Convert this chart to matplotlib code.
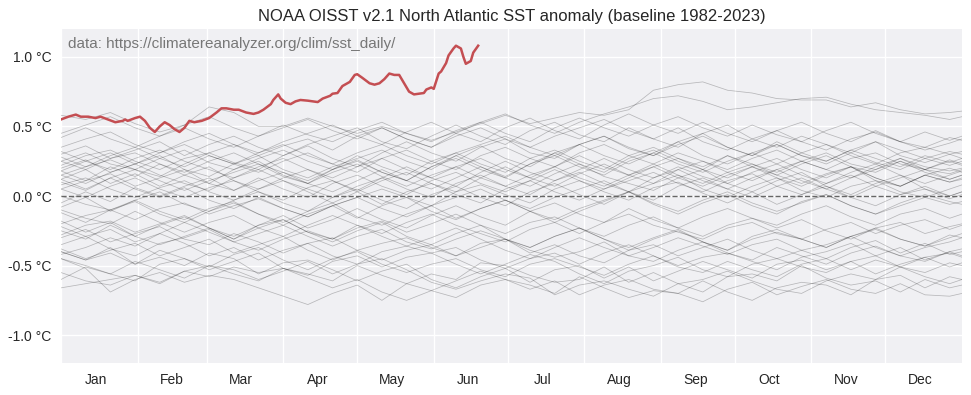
import numpy as np
import matplotlib
matplotlib.use("Agg")
import matplotlib.pyplot as plt
from matplotlib.ticker import FixedLocator, NullFormatter, FixedFormatter

# sample days (day of year, 0 = Jan 1) for the past years
days = [0, 10, 20, 30, 40, 50, 60, 70, 80, 90, 100, 110, 120, 130, 140, 150, 160, 170, 180,
        190, 200, 210, 220, 230, 240, 250, 260, 270, 280, 290, 300, 310, 320, 330, 340, 350, 360, 365]

y1982 = [-0.45, -0.52, -0.69, -0.6, -0.55, -0.62, -0.57, -0.6, -0.66, -0.72, -0.78, -0.7, -0.64, -0.75, -0.63, -0.68, -0.61, -0.54, -0.6, -0.64, -0.7, -0.58, -0.66, -0.73, -0.68, -0.7, -0.61, -0.69, -0.75, -0.66, -0.62, -0.64, -0.71, -0.6, -0.57, -0.66, -0.58, -0.6]
y1983 = [-0.66, -0.63, -0.6, -0.57, -0.62, -0.54, -0.58, -0.51, -0.55, -0.52, -0.56, -0.61, -0.5, -0.57, -0.63, -0.56, -0.6, -0.48, -0.5, -0.57, -0.62, -0.6, -0.51, -0.62, -0.55, -0.63, -0.69, -0.58, -0.56, -0.61, -0.5, -0.59, -0.64, -0.61, -0.69, -0.6, -0.66, -0.64]
y1984 = [-0.4, -0.46, -0.37, -0.49, -0.44, -0.5, -0.41, -0.45, -0.56, -0.48, -0.46, -0.53, -0.61, -0.54, -0.49, -0.6, -0.66, -0.58, -0.52, -0.62, -0.53, -0.5, -0.59, -0.51, -0.61, -0.54, -0.47, -0.53, -0.59, -0.49, -0.46, -0.53, -0.47, -0.56, -0.49, -0.44, -0.51, -0.48]
y1985 = [-0.55, -0.61, -0.64, -0.57, -0.63, -0.54, -0.5, -0.53, -0.6, -0.54, -0.47, -0.56, -0.49, -0.45, -0.53, -0.62, -0.67, -0.61, -0.56, -0.59, -0.71, -0.64, -0.61, -0.67, -0.72, -0.63, -0.6, -0.54, -0.61, -0.67, -0.7, -0.61, -0.56, -0.6, -0.51, -0.58, -0.63, -0.6]
y1986 = [-0.6, -0.51, -0.56, -0.61, -0.49, -0.45, -0.53, -0.47, -0.41, -0.52, -0.57, -0.47, -0.43, -0.51, -0.44, -0.41, -0.49, -0.56, -0.49, -0.42, -0.47, -0.56, -0.63, -0.54, -0.5, -0.44, -0.53, -0.58, -0.49, -0.45, -0.51, -0.55, -0.47, -0.43, -0.51, -0.44, -0.41, -0.44]
y1987 = [-0.42, -0.37, -0.3, -0.36, -0.27, -0.34, -0.43, -0.37, -0.46, -0.39, -0.34, -0.43, -0.49, -0.4, -0.36, -0.41, -0.37, -0.46, -0.52, -0.45, -0.41, -0.49, -0.41, -0.35, -0.43, -0.5, -0.44, -0.41, -0.47, -0.53, -0.44, -0.4, -0.34, -0.43, -0.37, -0.46, -0.4, -0.38]
y1988 = [-0.38, -0.45, -0.39, -0.34, -0.43, -0.37, -0.31, -0.41, -0.35, -0.29, -0.39, -0.46, -0.39, -0.34, -0.3, -0.37, -0.43, -0.34, -0.31, -0.39, -0.44, -0.4, -0.33, -0.43, -0.37, -0.3, -0.36, -0.42, -0.35, -0.31, -0.39, -0.45, -0.37, -0.32, -0.41, -0.34, -0.42, -0.4]
y1989 = [-0.3, -0.24, -0.33, -0.27, -0.22, -0.31, -0.35, -0.27, -0.33, -0.41, -0.34, -0.3, -0.39, -0.46, -0.39, -0.35, -0.43, -0.37, -0.31, -0.41, -0.35, -0.43, -0.48, -0.39, -0.35, -0.43, -0.37, -0.31, -0.39, -0.45, -0.39, -0.35, -0.29, -0.37, -0.43, -0.37, -0.33, -0.3]
y1990 = [-0.22, -0.29, -0.24, -0.33, -0.27, -0.19, -0.26, -0.33, -0.27, -0.21, -0.29, -0.36, -0.29, -0.24, -0.33, -0.38, -0.31, -0.25, -0.31, -0.37, -0.29, -0.23, -0.31, -0.37, -0.3, -0.24, -0.33, -0.39, -0.31, -0.26, -0.31, -0.37, -0.29, -0.24, -0.31, -0.36, -0.3, -0.27]
y1991 = [-0.35, -0.29, -0.38, -0.43, -0.34, -0.3, -0.24, -0.33, -0.39, -0.31, -0.25, -0.31, -0.21, -0.29, -0.36, -0.3, -0.23, -0.31, -0.39, -0.45, -0.37, -0.3, -0.37, -0.43, -0.47, -0.39, -0.33, -0.41, -0.46, -0.37, -0.43, -0.49, -0.41, -0.36, -0.43, -0.47, -0.4, -0.43]
y1992 = [-0.45, -0.5, -0.56, -0.47, -0.53, -0.59, -0.5, -0.56, -0.61, -0.52, -0.59, -0.66, -0.6, -0.69, -0.75, -0.68, -0.73, -0.64, -0.6, -0.67, -0.61, -0.71, -0.64, -0.6, -0.67, -0.7, -0.76, -0.67, -0.62, -0.71, -0.65, -0.6, -0.67, -0.7, -0.63, -0.71, -0.72, -0.7]
y1993 = [-0.4, -0.46, -0.41, -0.49, -0.39, -0.45, -0.51, -0.42, -0.37, -0.46, -0.53, -0.45, -0.4, -0.49, -0.55, -0.49, -0.45, -0.53, -0.58, -0.49, -0.45, -0.51, -0.57, -0.49, -0.43, -0.51, -0.55, -0.47, -0.53, -0.58, -0.49, -0.45, -0.53, -0.46, -0.51, -0.55, -0.48, -0.5]
y1994 = [-0.28, -0.21, -0.18, -0.26, -0.2, -0.14, -0.23, -0.29, -0.21, -0.17, -0.26, -0.31, -0.23, -0.18, -0.26, -0.2, -0.13, -0.21, -0.27, -0.19, -0.15, -0.23, -0.29, -0.21, -0.15, -0.23, -0.29, -0.21, -0.16, -0.23, -0.17, -0.25, -0.31, -0.23, -0.19, -0.27, -0.22, -0.2]
y1995 = [-0.2, -0.14, -0.1, -0.17, -0.09, -0.05, -0.13, -0.07, -0.02, -0.09, -0.15, -0.07, -0.01, 0.05, -0.01, -0.07, 0.03, 0.08, 0.01, -0.05, 0.05, 0.11, 0.03, -0.03, 0.06, 0.1, 0.02, -0.05, 0.03, -0.06, 0.01, 0.07, -0.01, -0.07, 0.01, 0.05, -0.02, 0.01]
y1996 = [-0.1, -0.16, -0.2, -0.11, -0.19, -0.26, -0.19, -0.14, -0.23, -0.29, -0.21, -0.14, -0.21, -0.27, -0.19, -0.13, -0.21, -0.27, -0.33, -0.24, -0.19, -0.27, -0.19, -0.13, -0.21, -0.26, -0.31, -0.23, -0.19, -0.27, -0.31, -0.24, -0.19, -0.27, -0.21, -0.17, -0.24, -0.21]
y1997 = [-0.25, -0.31, -0.21, -0.29, -0.35, -0.29, -0.23, -0.31, -0.21, -0.14, -0.23, -0.17, -0.09, -0.17, -0.23, -0.14, -0.07, -0.15, -0.21, -0.11, -0.05, -0.13, -0.19, -0.09, -0.17, -0.23, -0.15, -0.09, -0.16, -0.21, -0.13, -0.07, -0.15, -0.21, -0.13, -0.09, -0.16, -0.13]
y1998 = [-0.05, 0.03, -0.04, 0.06, 0.0, 0.07, 0.13, 0.04, 0.11, 0.17, 0.09, 0.03, 0.11, 0.19, 0.11, 0.05, 0.13, 0.21, 0.13, 0.07, 0.16, 0.23, 0.14, 0.09, 0.04, 0.13, 0.19, 0.09, 0.03, 0.11, 0.17, 0.07, 0.01, 0.09, 0.15, 0.05, 0.0, 0.03]
y1999 = [-0.12, -0.19, -0.1, -0.04, -0.13, -0.19, -0.11, -0.05, -0.13, -0.21, -0.13, -0.07, -0.16, -0.07, -0.01, -0.11, -0.17, -0.09, -0.03, -0.11, -0.19, -0.11, -0.04, 0.03, -0.06, -0.13, -0.05, 0.01, -0.07, -0.13, -0.04, 0.01, -0.07, -0.13, -0.05, 0.01, -0.04, -0.06]
y2000 = [-0.18, -0.26, -0.19, -0.29, -0.21, -0.15, -0.23, -0.31, -0.23, -0.17, -0.26, -0.33, -0.25, -0.19, -0.29, -0.35, -0.27, -0.21, -0.31, -0.37, -0.29, -0.23, -0.31, -0.39, -0.31, -0.25, -0.33, -0.39, -0.29, -0.24, -0.31, -0.37, -0.29, -0.23, -0.31, -0.36, -0.28, -0.3]
y2001 = [-0.08, -0.01, -0.11, -0.03, 0.03, -0.06, -0.11, -0.03, 0.03, -0.05, -0.11, -0.01, 0.05, -0.03, -0.09, 0.01, 0.07, -0.01, -0.07, 0.03, 0.09, 0.01, -0.06, 0.03, 0.09, 0.15, 0.05, -0.01, 0.07, 0.13, 0.04, -0.01, 0.07, 0.11, 0.03, -0.01, 0.05, 0.08]
y2002 = [0.05, 0.11, 0.16, 0.07, 0.13, 0.19, 0.09, 0.04, 0.13, 0.05, -0.01, 0.09, 0.15, 0.07, 0.01, 0.11, 0.17, 0.09, 0.03, 0.11, 0.19, 0.11, 0.05, 0.13, 0.21, 0.13, 0.07, 0.15, 0.21, 0.13, 0.07, 0.15, 0.21, 0.11, 0.07, 0.15, 0.1, 0.12]
y2003 = [0.1, 0.04, 0.13, 0.19, 0.11, 0.04, 0.11, 0.17, 0.23, 0.14, 0.09, 0.19, 0.26, 0.17, 0.11, 0.21, 0.29, 0.21, 0.14, 0.23, 0.31, 0.23, 0.17, 0.27, 0.33, 0.25, 0.19, 0.29, 0.21, 0.15, 0.23, 0.29, 0.21, 0.17, 0.25, 0.19, 0.26, 0.23]
y2004 = [0.2, 0.26, 0.17, 0.23, 0.29, 0.19, 0.14, 0.23, 0.29, 0.19, 0.13, 0.21, 0.27, 0.33, 0.25, 0.19, 0.29, 0.36, 0.27, 0.21, 0.31, 0.37, 0.29, 0.23, 0.31, 0.39, 0.29, 0.23, 0.31, 0.37, 0.29, 0.23, 0.31, 0.24, 0.19, 0.27, 0.22, 0.25]
y2005 = [0.15, 0.21, 0.26, 0.19, 0.14, 0.23, 0.31, 0.24, 0.19, 0.29, 0.36, 0.27, 0.21, 0.31, 0.39, 0.31, 0.25, 0.35, 0.41, 0.31, 0.27, 0.37, 0.43, 0.34, 0.29, 0.39, 0.45, 0.35, 0.29, 0.39, 0.31, 0.25, 0.33, 0.39, 0.29, 0.24, 0.3, 0.27]
y2006 = [0.25, 0.31, 0.23, 0.19, 0.27, 0.33, 0.24, 0.19, 0.27, 0.33, 0.25, 0.19, 0.29, 0.21, 0.15, 0.25, 0.31, 0.23, 0.17, 0.27, 0.33, 0.25, 0.19, 0.29, 0.35, 0.27, 0.21, 0.29, 0.23, 0.17, 0.25, 0.31, 0.23, 0.19, 0.27, 0.21, 0.18, 0.2]
y2007 = [0.12, 0.19, 0.09, 0.16, 0.07, 0.15, 0.21, 0.11, 0.05, 0.13, 0.19, 0.11, 0.04, 0.13, 0.21, 0.13, 0.07, 0.17, 0.25, 0.17, 0.11, 0.19, 0.27, 0.19, 0.13, 0.21, 0.14, 0.09, 0.17, 0.23, 0.15, 0.09, 0.17, 0.23, 0.15, 0.09, 0.15, 0.18]
y2008 = [0.18, 0.11, 0.21, 0.14, 0.23, 0.15, 0.09, 0.19, 0.25, 0.15, 0.09, 0.17, 0.23, 0.14, 0.07, 0.15, 0.21, 0.27, 0.19, 0.13, 0.21, 0.29, 0.21, 0.15, 0.23, 0.15, 0.09, 0.17, 0.23, 0.15, 0.09, 0.16, 0.21, 0.13, 0.07, 0.15, 0.1, 0.13]
y2009 = [0.05, -0.01, 0.07, 0.13, 0.05, -0.01, 0.06, 0.11, 0.03, -0.03, 0.06, 0.11, 0.03, 0.11, 0.17, 0.09, 0.03, 0.13, 0.21, 0.13, 0.07, 0.16, 0.23, 0.15, 0.09, 0.19, 0.25, 0.17, 0.11, 0.19, 0.25, 0.19, 0.13, 0.21, 0.27, 0.19, 0.16, 0.19]
y2010 = [0.3, 0.36, 0.27, 0.33, 0.39, 0.29, 0.37, 0.43, 0.35, 0.29, 0.37, 0.43, 0.49, 0.39, 0.34, 0.43, 0.51, 0.43, 0.37, 0.47, 0.53, 0.44, 0.39, 0.49, 0.41, 0.35, 0.45, 0.51, 0.41, 0.35, 0.43, 0.37, 0.31, 0.39, 0.33, 0.27, 0.32, 0.3]
y2011 = [0.28, 0.21, 0.29, 0.35, 0.27, 0.21, 0.29, 0.23, 0.17, 0.25, 0.31, 0.23, 0.17, 0.27, 0.33, 0.25, 0.19, 0.29, 0.35, 0.27, 0.21, 0.31, 0.37, 0.29, 0.23, 0.31, 0.25, 0.19, 0.27, 0.33, 0.25, 0.19, 0.27, 0.31, 0.23, 0.19, 0.25, 0.22]
y2012 = [0.22, 0.29, 0.33, 0.25, 0.19, 0.27, 0.31, 0.37, 0.29, 0.36, 0.41, 0.33, 0.43, 0.49, 0.41, 0.35, 0.45, 0.53, 0.45, 0.39, 0.49, 0.56, 0.49, 0.43, 0.51, 0.57, 0.49, 0.43, 0.51, 0.44, 0.39, 0.47, 0.53, 0.45, 0.39, 0.46, 0.4, 0.43]
y2013 = [0.15, 0.09, 0.17, 0.23, 0.15, 0.09, 0.04, 0.13, 0.19, 0.11, 0.05, -0.01, 0.07, 0.13, 0.05, -0.01, 0.09, 0.15, 0.07, 0.01, 0.11, 0.17, 0.09, 0.03, 0.13, 0.19, 0.11, 0.05, 0.13, 0.19, 0.11, 0.05, 0.13, 0.19, 0.25, 0.17, 0.12, 0.15]
y2014 = [0.08, 0.13, 0.05, -0.01, 0.06, 0.11, 0.03, -0.03, 0.05, 0.11, 0.03, -0.05, 0.03, -0.06, 0.03, 0.09, 0.01, -0.05, 0.05, 0.11, 0.03, -0.03, 0.05, 0.11, 0.17, 0.09, 0.03, 0.11, 0.16, 0.07, 0.01, 0.09, 0.15, 0.07, 0.01, 0.07, 0.0, 0.03]
y2015 = [0.0, -0.06, -0.1, -0.03, -0.11, -0.17, -0.09, -0.04, -0.13, -0.19, -0.11, -0.05, -0.15, -0.21, -0.13, -0.07, -0.16, -0.09, -0.03, -0.11, -0.17, -0.09, -0.03, 0.03, -0.05, -0.11, -0.03, 0.03, -0.05, -0.11, -0.05, 0.01, -0.07, -0.13, -0.07, -0.01, -0.06, -0.04]
y2016 = [0.32, 0.25, 0.19, 0.27, 0.33, 0.25, 0.19, 0.13, 0.21, 0.27, 0.19, 0.13, 0.21, 0.27, 0.19, 0.13, 0.21, 0.13, 0.07, 0.15, 0.21, 0.13, 0.07, 0.15, 0.21, 0.27, 0.19, 0.13, 0.21, 0.27, 0.19, 0.13, 0.21, 0.13, 0.07, 0.15, 0.2, 0.17]
y2017 = [0.25, 0.19, 0.27, 0.31, 0.23, 0.17, 0.25, 0.31, 0.23, 0.17, 0.11, 0.19, 0.25, 0.17, 0.11, 0.21, 0.27, 0.19, 0.13, 0.23, 0.29, 0.21, 0.15, 0.25, 0.31, 0.23, 0.17, 0.25, 0.31, 0.23, 0.31, 0.37, 0.29, 0.23, 0.31, 0.35, 0.3, 0.32]
y2018 = [0.12, 0.05, 0.13, 0.05, -0.01, 0.06, -0.03, -0.09, -0.01, -0.09, -0.15, -0.07, -0.01, -0.09, -0.15, -0.07, -0.01, 0.05, -0.03, -0.09, -0.01, 0.05, 0.11, 0.03, -0.03, 0.07, 0.13, 0.05, -0.01, 0.07, 0.13, 0.05, -0.01, 0.07, 0.13, 0.19, 0.12, 0.15]
y2019 = [0.18, 0.25, 0.31, 0.23, 0.31, 0.37, 0.29, 0.23, 0.31, 0.37, 0.29, 0.23, 0.31, 0.37, 0.29, 0.23, 0.31, 0.37, 0.43, 0.35, 0.29, 0.37, 0.43, 0.35, 0.29, 0.37, 0.43, 0.35, 0.29, 0.37, 0.29, 0.25, 0.33, 0.27, 0.21, 0.29, 0.24, 0.27]
y2020 = [0.35, 0.41, 0.46, 0.37, 0.31, 0.39, 0.45, 0.37, 0.31, 0.39, 0.45, 0.51, 0.43, 0.37, 0.46, 0.53, 0.45, 0.39, 0.49, 0.56, 0.47, 0.41, 0.51, 0.59, 0.51, 0.45, 0.53, 0.45, 0.39, 0.47, 0.53, 0.45, 0.39, 0.47, 0.39, 0.35, 0.42, 0.4]
y2021 = [0.42, 0.49, 0.41, 0.35, 0.43, 0.49, 0.41, 0.35, 0.43, 0.49, 0.55, 0.47, 0.41, 0.49, 0.41, 0.35, 0.43, 0.49, 0.41, 0.35, 0.43, 0.49, 0.55, 0.47, 0.41, 0.49, 0.39, 0.33, 0.41, 0.47, 0.39, 0.33, 0.41, 0.46, 0.39, 0.33, 0.38, 0.41]
y2022 = [0.45, 0.51, 0.57, 0.49, 0.43, 0.51, 0.57, 0.49, 0.43, 0.51, 0.44, 0.39, 0.47, 0.53, 0.45, 0.39, 0.47, 0.53, 0.59, 0.51, 0.45, 0.53, 0.59, 0.64, 0.7, 0.72, 0.68, 0.62, 0.64, 0.67, 0.7, 0.71, 0.66, 0.62, 0.6, 0.58, 0.55, 0.57]
y2023 = [0.58, 0.55, 0.6, 0.52, 0.46, 0.51, 0.64, 0.6, 0.5, 0.5, 0.56, 0.5, 0.45, 0.5, 0.45, 0.4, 0.46, 0.52, 0.58, 0.52, 0.56, 0.6, 0.58, 0.62, 0.76, 0.8, 0.82, 0.76, 0.74, 0.7, 0.69, 0.69, 0.64, 0.67, 0.62, 0.59, 0.6, 0.61]

past_years = [y1982, y1983, y1984, y1985, y1986, y1987, y1988, y1989, y1990, y1991,
              y1992, y1993, y1994, y1995, y1996, y1997, y1998, y1999, y2000, y2001,
              y2002, y2003, y2004, y2005, y2006, y2007, y2008, y2009, y2010, y2011,
              y2012, y2013, y2014, y2015, y2016, y2017, y2018, y2019, y2020, y2021,
              y2022, y2023]

# 2024 so far
days_2024 = [0, 3, 6, 8, 11, 14, 16, 19, 22, 25, 26, 27, 30, 32, 34, 36, 38, 40, 42, 44, 46, 48,
             50, 52, 54, 57, 60, 63, 65, 67, 70, 72, 75, 78, 80, 82, 85, 86, 88, 89, 91, 93, 95,
             97, 100, 102, 104, 106, 109, 110, 112, 114, 117, 119, 120, 122, 125, 127, 129, 131,
             133, 135, 137, 139, 141, 143, 145, 147, 148, 150, 151, 153, 154, 156, 157, 159, 160,
             162, 163, 164, 166, 167, 169]
sst_2024 = [0.55, 0.57, 0.585, 0.57, 0.57, 0.56, 0.57, 0.55, 0.53, 0.54, 0.55, 0.54, 0.56, 0.57,
            0.54, 0.49, 0.46, 0.50, 0.53, 0.51, 0.48, 0.46, 0.49, 0.54, 0.53, 0.54, 0.56, 0.60,
            0.63, 0.63, 0.62, 0.62, 0.60, 0.59, 0.60, 0.62, 0.66, 0.69, 0.73, 0.70, 0.67, 0.66,
            0.68, 0.69, 0.685, 0.68, 0.675, 0.70, 0.72, 0.735, 0.74, 0.79, 0.82, 0.87, 0.875,
            0.85, 0.81, 0.80, 0.81, 0.84, 0.88, 0.87, 0.87, 0.81, 0.75, 0.73, 0.735, 0.74, 0.765,
            0.78, 0.77, 0.88, 0.895, 0.955, 1.01, 1.06, 1.08, 1.06, 1.00, 0.95, 0.97, 1.03, 1.08]

month_starts = [0, 31, 59, 90, 120, 151, 181, 212, 243, 273, 304, 334]
month_names = ['Jan', 'Feb', 'Mar', 'Apr', 'May', 'Jun', 'Jul', 'Aug', 'Sep', 'Oct', 'Nov', 'Dec']
y_ticks = [-1.0, -0.5, 0.0, 0.5, 1.0]

plt.rcParams['font.family'] = ['Liberation Sans', 'DejaVu Sans']

fig = plt.figure(figsize=(9.71, 3.95), dpi=100)
ax = fig.add_axes([61 / 971, 1 - 363 / 395, 901 / 971, 334 / 395])
ax.set_facecolor('#f0f0f3')
for s in ax.spines.values():
    s.set_visible(False)

for vals in past_years:
    ax.plot(days, vals, color='black', lw=0.55, alpha=0.24)

ax.plot(days_2024, sst_2024, color='#c44e52', lw=1.8, zorder=5)
ax.axhline(0, color='#666666', lw=1.0, ls='--', zorder=4)

ax.set_xlim(0, 365)
ax.set_ylim(-1.2, 1.2)

ax.xaxis.set_major_locator(FixedLocator(month_starts))
ax.xaxis.set_major_formatter(NullFormatter())
ax.xaxis.set_minor_locator(FixedLocator([d + 14 for d in month_starts]))
ax.xaxis.set_minor_formatter(FixedFormatter(month_names))
ax.set_yticks(y_ticks)
ax.set_yticklabels(['%.1f °C' % v for v in y_ticks])
ax.tick_params(axis='both', which='both', length=0, pad=7, labelsize=10, labelcolor='#262626')

ax.grid(True, which='major', color='white', lw=1.0)
ax.set_axisbelow(True)

ax.set_title('NOAA OISST v2.1 North Atlantic SST anomaly (baseline 1982-2023)',
             fontsize=12, color='#262626', pad=6)
ax.text(0.008, 0.955, 'data: https://climatereanalyzer.org/clim/sst_daily/',
        transform=ax.transAxes, fontsize=11, color='#777777', va='center', ha='left')

fig.savefig('out.png', dpi=100)
